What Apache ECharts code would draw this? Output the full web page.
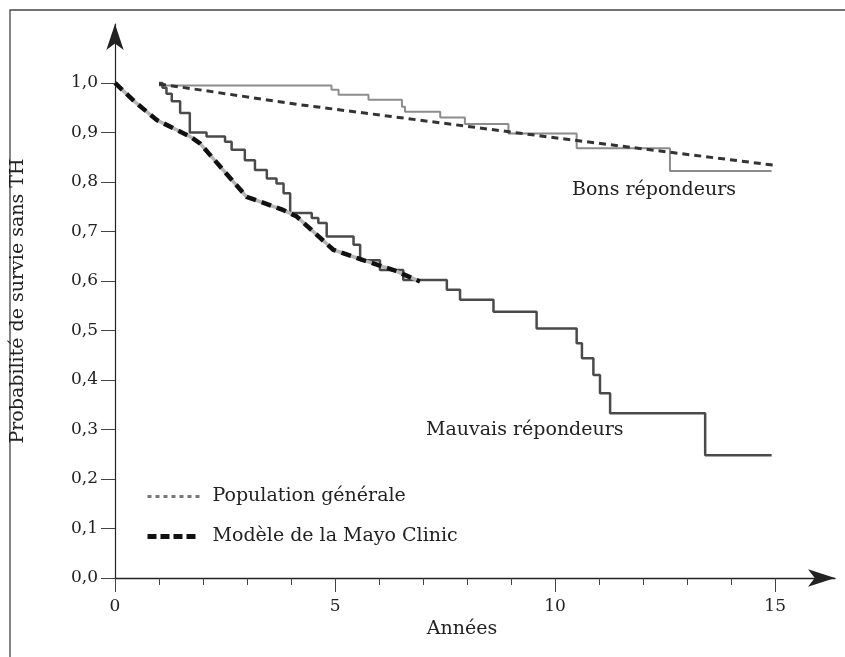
<!DOCTYPE html>
<html>
<head>
<meta charset="utf-8">
<script src="https://cdn.jsdelivr.net/npm/echarts@6/dist/echarts.min.js"></script>
<style>
  html, body { margin: 0; padding: 0; background: #fff; }
  #chart { width: 845px; height: 657px; }
</style>
</head>
<body>
<div id="chart"></div>
<script>
// ticks
const xLabelTicks = [0, 5, 10, 15];
const xMinorTicks = [1, 2, 3, 4, 6, 7, 8, 9, 11, 12, 13, 14];
const yTicks = [0, 0.1, 0.2, 0.3, 0.4, 0.5, 0.6, 0.7, 0.8, 0.9, 1.0];

// courbes [années, probabilité]
const bonsRepondeurs = [
  [1.0, 0.995], [4.92, 0.986], [5.08, 0.976], [5.76, 0.966], [6.52, 0.952],
  [6.59, 0.942], [7.39, 0.930], [7.95, 0.917], [8.94, 0.898], [10.49, 0.868],
  [12.61, 0.822], [14.92, 0.822]
];
const mauvaisRepondeurs = [
  [1.0, 1.0], [1.08, 0.99], [1.17, 0.978], [1.29, 0.963], [1.48, 0.939],
  [1.70, 0.900], [2.08, 0.892], [2.50, 0.881], [2.65, 0.865], [2.95, 0.844],
  [3.18, 0.824], [3.45, 0.807], [3.67, 0.797], [3.83, 0.777], [3.98, 0.737],
  [4.47, 0.727], [4.62, 0.717], [4.81, 0.690], [5.42, 0.673], [5.57, 0.642],
  [6.02, 0.622], [6.55, 0.602], [7.54, 0.582], [7.84, 0.562], [8.60, 0.538],
  [9.58, 0.504], [10.49, 0.474], [10.61, 0.444], [10.87, 0.410], [11.02, 0.373],
  [11.25, 0.333], [13.41, 0.248], [14.92, 0.248]
];
const populationGenerale = [
  [1.0, 0.998], [2.0, 0.985], [4.2, 0.956], [7.6, 0.917], [10.1, 0.888],
  [12.7, 0.859], [14.95, 0.834]
];
const modeleMayo = [
  [0, 1.0], [0.45, 0.962], [0.95, 0.925], [1.70, 0.892], [1.93, 0.878],
  [2.39, 0.831], [2.99, 0.770], [3.83, 0.743], [4.13, 0.730], [4.96, 0.663],
  [5.64, 0.642], [6.33, 0.622], [6.93, 0.599]
];

const FONT = 'DejaVu Serif';

const chart = echarts.init(document.getElementById('chart'));

const option = {
  animation: false,
  backgroundColor: '#fff',
  grid: { left: 115, right: 10, top: 24, bottom: 79 },
  legend: {
    orient: 'vertical',
    left: 145,
    top: 487,
    padding: 0,
    itemWidth: 52,
    itemHeight: 12,
    itemGap: 21,
    textStyle: { fontFamily: FONT, fontSize: 19, color: '#222', padding: [0, 0, 0, 8] },
    data: [
      {
        name: 'Population générale',
        itemStyle: { opacity: 0 },
        lineStyle: { color: '#777', width: 3, type: [4, 4] }
      },
      {
        name: 'Modèle de la Mayo Clinic',
        itemStyle: { opacity: 0 },
        lineStyle: { color: '#111', width: 5, type: [9, 4] }
      }
    ]
  },
  xAxis: [
    {
      type: 'value',
      min: 0,
      max: 16.36,
      position: 'bottom',
      name: 'Années',
      nameLocation: 'middle',
      nameGap: 42,
      nameTextStyle: { fontFamily: FONT, fontSize: 19, color: '#222', padding: [0, 26, 0, 0] },
      splitLine: { show: false },
      axisLine: { lineStyle: { color: '#222', width: 1.3 }, symbol: ['none', 'arrow'], symbolSize: [13, 27] },
      axisTick: { customValues: xMinorTicks, length: 7, lineStyle: { color: '#444' } },
      axisLabel: {
        customValues: xLabelTicks,
        margin: 20,
        fontFamily: FONT,
        fontSize: 17,
        color: '#222'
      }
    },
    {
      type: 'value',
      min: 0,
      max: 16.36,
      position: 'bottom',
      splitLine: { show: false },
      axisLine: { show: false },
      axisTick: { customValues: xLabelTicks, length: 14, lineStyle: { color: '#444' } },
      axisLabel: { show: false }
    }
  ],
  yAxis: {
    type: 'value',
    min: 0,
    max: 1.119,
    name: 'Probabilité de survie sans TH',
    nameLocation: 'middle',
    nameGap: 87,
    nameTextStyle: { fontFamily: FONT, fontSize: 19, color: '#222' },
    splitLine: { show: false },
    axisLine: { lineStyle: { color: '#222', width: 1.2 }, symbol: ['none', 'arrow'], symbolSize: [13, 26] },
    axisTick: { customValues: yTicks, length: 14, lineStyle: { color: '#444' } },
    axisLabel: {
      customValues: yTicks,
      margin: 17,
      fontFamily: FONT,
      fontSize: 17,
      color: '#222',
      formatter: (v) => v.toFixed(1).replace('.', ',')
    }
  },
  graphic: [
    {
      type: 'polyline',
      silent: true,
      shape: { points: [[10, 657], [10, 10], [845, 10]] },
      style: { stroke: '#444', lineWidth: 1.3, fill: null }
    },
    {
      type: 'text',
      x: 572,
      y: 190,
      style: { text: 'Bons répondeurs', font: '19px "DejaVu Serif"', fill: '#222', verticalAlign: 'middle' }
    },
    {
      type: 'text',
      x: 426,
      y: 430,
      style: { text: 'Mauvais répondeurs', font: '19px "DejaVu Serif"', fill: '#222', verticalAlign: 'middle' }
    }
  ],
  series: [
    {
      name: 'Bons répondeurs',
      type: 'line',
      step: 'end',
      symbol: 'none',
      data: bonsRepondeurs,
      lineStyle: { color: '#8c8c8c', width: 2 },
      itemStyle: { color: '#8c8c8c' },
      z: 2
    },
    {
      name: 'Population générale',
      type: 'line',
      symbol: 'none',
      data: populationGenerale,
      lineStyle: { color: '#333', width: 3, type: [7, 5] },
      itemStyle: { color: '#333' },
      z: 3
    },
    {
      name: 'Mauvais répondeurs',
      type: 'line',
      step: 'end',
      symbol: 'none',
      data: mauvaisRepondeurs,
      lineStyle: { color: '#4a4a4a', width: 2.5 },
      itemStyle: { color: '#4a4a4a' },
      z: 2
    },
    {
      name: 'Mayo fond',
      type: 'line',
      symbol: 'none',
      data: modeleMayo,
      lineStyle: { color: '#b5b5b5', width: 3.5 },
      itemStyle: { color: '#b5b5b5' },
      z: 4
    },
    {
      name: 'Modèle de la Mayo Clinic',
      type: 'line',
      symbol: 'none',
      data: modeleMayo,
      lineStyle: { color: '#111', width: 4.5, type: [10, 6] },
      itemStyle: { color: '#111' },
      z: 5
    }
  ]
};

chart.setOption(option);
</script>
</body>
</html>
